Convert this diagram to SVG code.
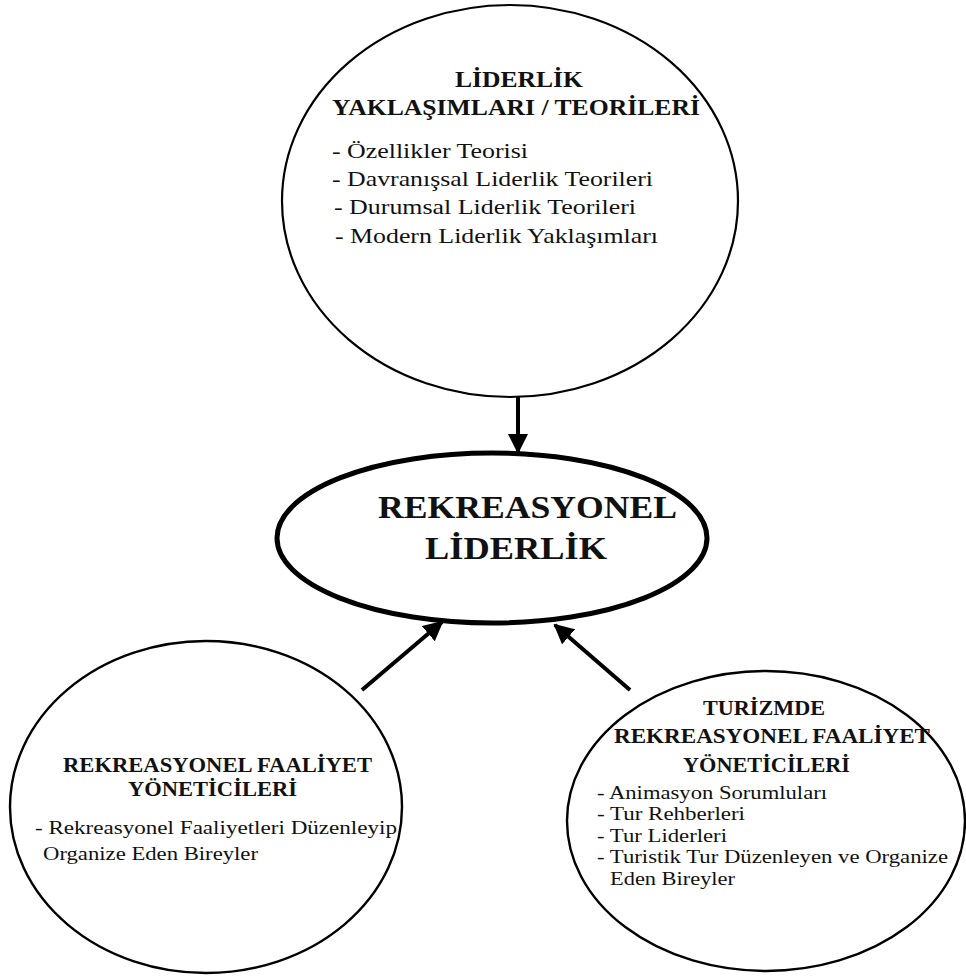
<svg xmlns="http://www.w3.org/2000/svg" width="966" height="976" viewBox="0 0 966 976">
  <style>
    .node-shape { fill: #ffffff; stroke: #000000; }
    .title { font-family: 'Liberation Serif', 'DejaVu Serif', serif; font-weight: bold; fill: #111111; }
    .item { font-family: 'Liberation Serif', 'DejaVu Serif', serif; fill: #111111; }
    .link { stroke: #000000; stroke-width: 4; fill: none; }
  </style>
  <defs>
    <marker id="arrow" viewBox="0 0 10 10" refX="9" refY="5" markerWidth="5" markerHeight="5" orient="auto" markerUnits="strokeWidth">
      <path d="M0,0 L10,5 L0,10 z" fill="#000000"/>
    </marker>
  </defs>
  <rect width="966" height="976" fill="#ffffff"/>

  <g id="connectors">
    <line class="link" x1="518" y1="397" x2="518" y2="452" marker-end="url(#arrow)"/>
    <line class="link" x1="362" y1="690" x2="442" y2="622" marker-end="url(#arrow)"/>
    <line class="link" x1="630" y1="690" x2="555" y2="625" marker-end="url(#arrow)"/>
  </g>

  <g id="node-theories">
    <ellipse class="node-shape" cx="510" cy="201" rx="228" ry="196" stroke-width="2.2"/>
    <text class="title" font-size="23" x="455" y="87" textLength="128" lengthAdjust="spacingAndGlyphs">LİDERLİK</text>
    <text class="title" font-size="23" x="332" y="115" textLength="368" lengthAdjust="spacingAndGlyphs">YAKLAŞIMLARI / TEORİLERİ</text>
    <text class="item" font-size="22" x="332" y="158" textLength="196" lengthAdjust="spacingAndGlyphs">- Özellikler Teorisi</text>
    <text class="item" font-size="22" x="332" y="186" textLength="321" lengthAdjust="spacingAndGlyphs">- Davranışsal Liderlik Teorileri</text>
    <text class="item" font-size="22" x="334" y="214" textLength="302" lengthAdjust="spacingAndGlyphs">- Durumsal Liderlik Teorileri</text>
    <text class="item" font-size="22" x="335" y="243" textLength="323" lengthAdjust="spacingAndGlyphs">- Modern Liderlik Yaklaşımları</text>
  </g>

  <g id="node-recreational-leadership">
    <ellipse class="node-shape" cx="492" cy="538" rx="215" ry="85" stroke-width="5"/>
    <text class="title" font-size="32" x="378" y="518" textLength="299" lengthAdjust="spacingAndGlyphs">REKREASYONEL</text>
    <text class="title" font-size="32" x="425" y="559" textLength="182" lengthAdjust="spacingAndGlyphs">LİDERLİK</text>
  </g>

  <g id="node-activity-managers">
    <ellipse class="node-shape" cx="206" cy="807" rx="196" ry="166" stroke-width="2.4"/>
    <text class="title" font-size="20" x="63" y="772" textLength="309" lengthAdjust="spacingAndGlyphs">REKREASYONEL FAALİYET</text>
    <text class="title" font-size="20" x="128" y="796" textLength="169" lengthAdjust="spacingAndGlyphs">YÖNETİCİLERİ</text>
    <text class="item" font-size="19" x="35" y="834" textLength="362" lengthAdjust="spacingAndGlyphs">- Rekreasyonel Faaliyetleri Düzenleyip</text>
    <text class="item" font-size="19" x="43" y="860" textLength="215" lengthAdjust="spacingAndGlyphs">Organize Eden Bireyler</text>
  </g>

  <g id="node-tourism-managers">
    <ellipse class="node-shape" cx="766" cy="821" rx="199" ry="150" stroke-width="2.4"/>
    <text class="title" font-size="20" x="703" y="715" textLength="122" lengthAdjust="spacingAndGlyphs">TURİZMDE</text>
    <text class="title" font-size="20" x="614" y="743" textLength="316" lengthAdjust="spacingAndGlyphs">REKREASYONEL FAALİYET</text>
    <text class="title" font-size="20" x="683" y="772" textLength="167" lengthAdjust="spacingAndGlyphs">YÖNETİCİLERİ</text>
    <text class="item" font-size="19" x="597" y="799" textLength="230" lengthAdjust="spacingAndGlyphs">- Animasyon Sorumluları</text>
    <text class="item" font-size="19" x="597" y="820" textLength="148" lengthAdjust="spacingAndGlyphs">- Tur Rehberleri</text>
    <text class="item" font-size="19" x="597" y="842" textLength="130" lengthAdjust="spacingAndGlyphs">- Tur Liderleri</text>
    <text class="item" font-size="19" x="597" y="863" textLength="351" lengthAdjust="spacingAndGlyphs">- Turistik Tur Düzenleyen ve Organize</text>
    <text class="item" font-size="19" x="610" y="885" textLength="125" lengthAdjust="spacingAndGlyphs">Eden Bireyler</text>
  </g>
</svg>
